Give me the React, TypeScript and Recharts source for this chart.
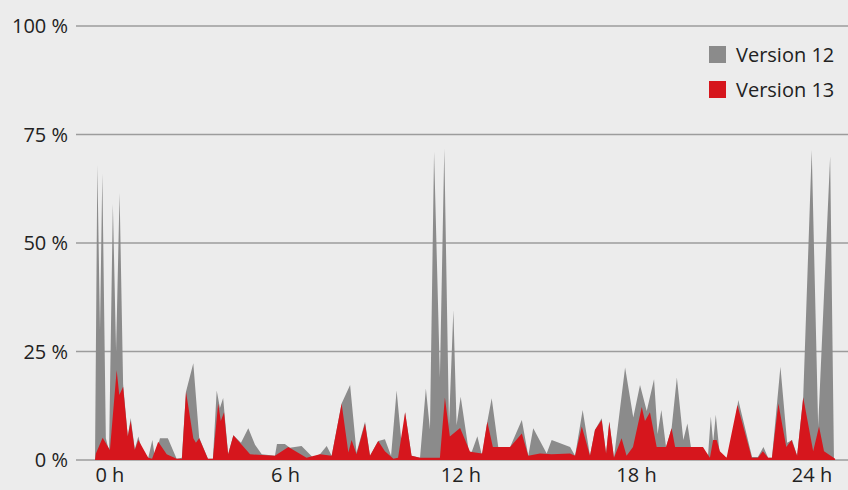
import React from "react";
import { AreaChart, Area, XAxis, YAxis, CartesianGrid } from "recharts";

// share of load per time of day (hours)
const hours12 = [
  -0.51, -0.43, -0.34, -0.26, -0.14, -0.03, 0.1, 0.21, 0.33, 0.45, 0.61, 0.71, 0.85, 0.97, 1.13,
  1.31, 1.45, 1.54, 1.71, 1.98, 2.28, 2.46, 2.6, 2.85, 3.05, 3.35, 3.52, 3.65, 3.76, 3.87, 4.04,
  4.22, 4.48, 4.73, 4.96, 5.19, 5.64, 5.71, 5.98, 6.15, 6.55, 6.94, 7.18, 7.41, 7.58, 7.92, 8.21,
  8.43, 8.72, 8.89, 9.17, 9.4, 9.61, 9.8, 9.98, 10.09, 10.31, 10.6, 10.8, 10.94, 11.08, 11.28,
  11.43, 11.59, 11.74, 11.85, 11.99, 12.27, 12.37, 12.56, 12.72, 12.9, 13.05, 13.28, 13.68, 14.08,
  14.3, 14.47, 14.93, 15.1, 15.73, 15.9, 16.16, 16.41, 16.58, 16.81, 16.96, 17.07, 17.23, 17.61,
  17.89, 18.12, 18.35, 18.6, 18.72, 18.85, 19.01, 19.2, 19.38, 19.6, 19.74, 19.86, 20.27, 20.44,
  20.54, 20.62, 20.71, 20.85, 21.08, 21.2, 21.48, 21.95, 22.15, 22.34, 22.5, 22.63, 22.92, 23.15,
  23.32, 23.49, 23.7, 23.99, 24.21, 24.62, 24.75,
];
const share12 = [
  0, 68, 30, 66, 5, 2, 59, 25, 61.5, 17.5, 5.5, 9.7, 2.5, 5.4, 1.5,
  0.5, 4.6, 0.5, 5, 5, 0.3, 0.5, 15.7, 22.3, 5.2, 0.3, 0.3, 16, 12, 14.3, 1.3,
  5.7, 4, 7.3, 3.5, 1.3, 1, 3.7, 3.7, 2.8, 3.2, 0.6, 1.3, 3.2, 1, 13, 17.3,
  1.7, 8.8, 1, 4.4, 4.8, 1, 16, 3, 11, 1, 0.5, 16.5, 7, 71, 19,
  71.8, 8, 34.5, 8, 14.6, 1.9, 1.9, 5.5, 1, 8.8, 14.2, 2.7, 3, 9.2,
  1, 7.3, 1.5, 4.6, 3, 1, 11.5, 1, 6.9, 9.6, 1.5, 8.8, 0.5, 21.3,
  9.8, 17.3, 11.3, 18.6, 6, 11.5, 3, 7.3, 19, 4.6, 8.4, 3, 3, 0.5,
  10, 4, 10.4, 1, 0.5, 1, 13.8, 0.7, 0.7, 3, 0.5, 0.5, 21.5, 4,
  4.6, 1, 14.6, 71.4, 7.7, 70, 0,
];

const hours13 = [
  -0.51, -0.48, -0.25, 0, 0.23, 0.32, 0.45, 0.61, 0.71, 0.85, 0.97, 1.31, 1.44, 1.65, 1.94,
  2.28, 2.46, 2.6, 2.85, 2.94, 3.05, 3.35, 3.52, 3.7, 3.79, 3.9, 4.04, 4.22, 4.79, 5.64, 6.1,
  6.72, 7.18, 7.58, 7.92, 8.15, 8.26, 8.43, 8.72, 8.89, 9.17, 9.4, 9.69, 9.85, 10.09, 10.31, 10.6,
  11.28, 11.45, 11.62, 11.97, 12.31, 12.72, 12.9, 13.09, 13.68, 14.08, 14.3, 14.7, 15.1, 15.73,
  15.9, 16.13, 16.41, 16.58, 16.81, 16.96, 17.07, 17.23, 17.49, 17.66, 17.88, 18.18, 18.29, 18.46,
  18.69, 18.87, 19.01, 19.2, 19.32, 20.27, 20.51, 20.62, 20.74, 20.85, 21.08, 21.45, 21.94, 22.15,
  22.32, 22.5, 22.63, 22.85, 23.12, 23.3, 23.49, 23.7, 24.04, 24.24, 24.41, 24.79,
];
const share13 = [
  0, 1.5, 5.1, 2.3, 20.7, 15, 16.9, 5.4, 9, 2.3, 4.6, 0.5, 0.3, 4.2, 1.3,
  0.3, 0.3, 15.7, 5, 4, 5, 0.3, 0.3, 13, 9, 11, 1.3, 5.7, 1.3, 1, 3,
  0.5, 1.3, 1, 13, 1.7, 4.6, 1.3, 8.4, 1, 4.4, 2, 0.3, 0.5, 11, 1, 0.5,
  0.5, 14.4, 5.4, 7.4, 1.9, 1.5, 8.8, 3, 3, 6.1, 1, 1.5, 1.3, 1.5,
  1, 7.7, 1, 6.9, 9.2, 1.5, 8.8, 0.5, 5, 1, 3, 12.2, 9, 11,
  3, 3, 3, 7.3, 3, 3, 0.5, 4.6, 4.6, 2, 0.5, 12.7, 0.5, 0.5,
  2, 0.5, 0.5, 13, 3, 4.6, 1, 14.4, 2, 7.7, 2, 0.3,
];

const xTicks = [0, 6, 12, 18, 24];
const yTicks = [0, 25, 50, 75, 100];
const seriesNames = ["Version 12", "Version 13"];
const seriesColors = ["#8b8b8b", "#d6161d"];

const data12 = hours12.map((h, i) => ({ h, v: share12[i] }));
const data13 = hours13.map((h, i) => ({ h, v: share13[i] }));

const font = "'Open Sans', sans-serif";

// legend drawn as an overlay so it does not take space from the plot
const LegendBox = () => (
  <div style={{ position: "absolute", top: 37, left: 709, fontFamily: font, fontSize: 20, color: "#222" }}>
    {seriesNames.map((name, i) => (
      <div key={name} style={{ display: "flex", alignItems: "center", height: 35 }}>
        <span
          style={{ width: 17, height: 17, background: seriesColors[i], marginRight: 10, display: "inline-block" }}
        />
        <span>{name}</span>
      </div>
    ))}
  </div>
);

export default function App() {
  return (
    <div style={{ position: "absolute", left: 0, top: 0, width: 848, height: 490, background: "#ececec" }}>
      <AreaChart width={848} height={490} margin={{ top: 26, right: 0, bottom: 0, left: 0 }} style={{ fontFamily: font }}>
        <CartesianGrid horizontal vertical={false} stroke="#9c9c9c" strokeWidth={1.5} />
        <XAxis
          type="number"
          dataKey="h"
          domain={[-1.16, 25.23]}
          ticks={xTicks}
          tickFormatter={(v) => `${v} h`}
          axisLine={false}
          tickLine={false}
          height={30}
          allowDataOverflow
          tick={{ fill: "#222", fontSize: 20 }}
        />
        <YAxis
          type="number"
          domain={[0, 100]}
          ticks={yTicks}
          tickFormatter={(v) => `${v} %`}
          axisLine={false}
          tickLine={false}
          width={76}
          tick={{ fill: "#222", fontSize: 20 }}
        />
        <Area
          data={data12}
          dataKey="v"
          name={seriesNames[0]}
          type="linear"
          stroke="none"
          fill={seriesColors[0]}
          fillOpacity={1}
          dot={false}
          activeDot={false}
          isAnimationActive={false}
        />
        <Area
          data={data13}
          dataKey="v"
          name={seriesNames[1]}
          type="linear"
          stroke="none"
          fill={seriesColors[1]}
          fillOpacity={1}
          dot={false}
          activeDot={false}
          isAnimationActive={false}
        />
      </AreaChart>
      <LegendBox />
    </div>
  );
}
